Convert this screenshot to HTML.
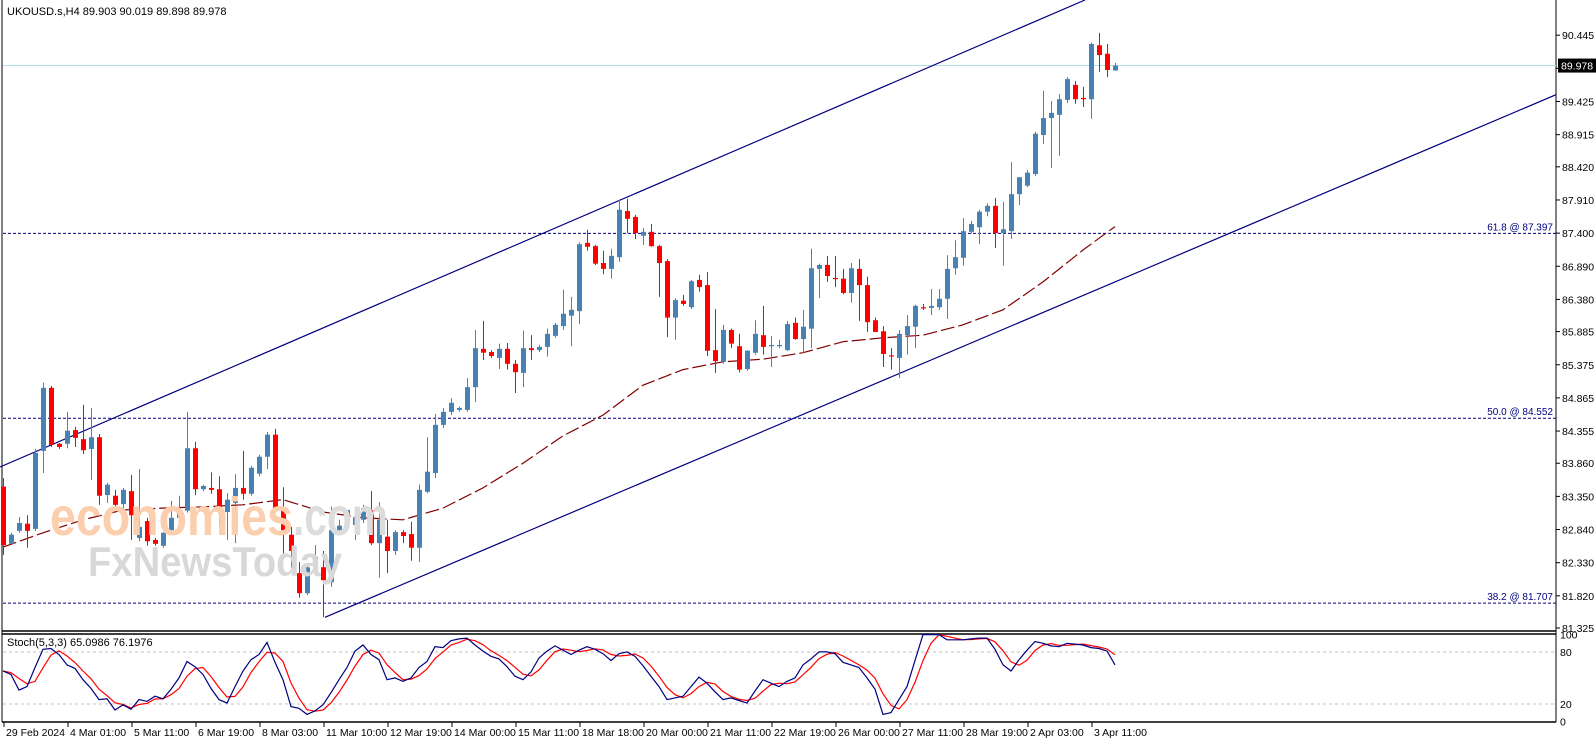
<!DOCTYPE html>
<html><head><meta charset="utf-8"><style>
html,body{margin:0;padding:0;background:#fff;}
svg{display:block;font-family:"Liberation Sans",sans-serif;}
</style></head><body>
<svg id="chart" width="1596" height="743" viewBox="0 0 1596 743" xmlns="http://www.w3.org/2000/svg">
<rect x="0" y="0" width="1596" height="743" fill="#fff"/>
<g id="grid"></g>
<g id="lines"></g>
<g id="ma"></g>
<g id="candles"></g>
<g id="wm">
<text x="50" y="535" font-size="54" font-weight="bold" fill="#fbcfae" textLength="243" lengthAdjust="spacingAndGlyphs">economies</text>
<text x="293" y="535" font-size="54" font-weight="bold" fill="#dcdcdc" textLength="95" lengthAdjust="spacingAndGlyphs">.com</text>
<text x="88" y="576" font-size="42" font-weight="bold" fill="#d8d8d8" textLength="254" lengthAdjust="spacingAndGlyphs">FxNewsToday</text>
</g>
<g id="stoch"></g>
<g id="axes"></g>
<text x="7" y="15" font-size="11" fill="#000">UKOUSD.s,H4  89.903 90.019 89.898 89.978</text>
<text x="7" y="646" font-size="11" fill="#000">Stoch(5,3,3) 65.0986 76.1976</text>
</svg>
<script>
const opens=[83.50,82.62,82.82,82.93,82.85,84.05,85.02,84.16,84.16,84.37,84.23,84.08,84.26,83.37,83.36,83.23,83.43,82.71,82.97,82.68,82.59,82.83,83.02,83.13,84.09,83.46,83.48,83.46,83.11,83.25,83.48,83.39,83.70,83.96,84.30,83.14,82.76,82.17,81.86,82.25,82.26,82.03,82.83,82.91,82.91,82.99,83.14,82.63,82.73,82.51,82.80,82.77,82.56,83.42,83.71,84.45,84.65,84.68,84.68,85.03,85.62,85.57,85.48,85.62,85.39,85.25,85.63,85.60,85.65,85.82,85.97,86.13,86.20,87.25,87.20,86.94,86.85,87.03,87.74,87.65,87.36,87.42,87.20,86.97,86.10,86.36,86.26,86.68,86.60,85.60,85.42,85.91,85.66,85.31,85.56,85.83,85.66,85.66,85.60,86.02,85.77,85.93,86.85,86.91,86.71,86.70,86.48,86.85,86.60,86.06,85.89,85.52,85.48,85.83,85.96,86.26,86.25,86.26,86.39,86.86,87.02,87.42,87.49,87.73,87.82,87.40,87.43,88.00,88.13,88.31,88.91,89.17,89.22,89.45,89.68,89.48,89.46,90.29,90.16,89.903];
const highs=[83.63,82.79,83.03,83.06,84.08,85.10,85.05,84.17,84.65,84.42,84.76,84.71,84.31,83.56,83.45,83.48,83.68,83.77,83.02,82.71,82.80,83.28,83.36,84.65,84.19,83.53,83.72,83.66,83.40,83.69,84.05,83.82,83.99,84.34,84.39,83.49,82.88,82.34,82.30,82.60,82.51,83.19,82.99,83.11,83.19,83.22,83.43,83.26,82.99,82.83,82.83,82.96,83.53,84.26,84.62,84.71,84.86,84.73,85.17,85.91,86.05,85.60,85.70,85.71,85.45,85.90,85.83,85.68,85.93,86.02,86.53,86.42,87.26,87.45,87.22,87.13,87.16,87.91,87.93,87.68,87.48,87.54,87.22,87.00,86.40,86.45,86.68,86.76,86.80,86.23,85.99,85.93,85.85,85.60,86.06,86.28,85.82,85.76,86.05,86.10,86.22,87.16,86.93,87.05,87.05,86.85,86.94,87.00,86.73,86.10,85.97,85.63,85.91,86.14,86.30,86.31,86.54,86.54,87.06,87.29,87.63,87.59,87.76,87.86,87.94,87.88,88.49,88.26,88.37,88.96,89.59,89.43,89.54,89.80,89.74,89.65,90.33,90.48,90.31,90.019];
const lows=[82.45,82.60,82.79,82.56,82.82,83.71,84.11,84.08,84.09,84.11,84.00,83.60,83.22,83.25,83.14,82.91,82.68,82.66,82.59,82.59,82.56,82.80,82.99,83.10,83.37,83.43,83.39,82.89,82.68,82.63,83.30,83.36,83.66,83.77,83.11,82.42,82.25,81.79,81.83,82.19,81.49,81.96,82.79,82.86,82.68,82.94,82.60,82.10,82.17,82.45,82.63,82.36,82.34,83.40,83.63,84.40,84.60,84.65,84.65,84.80,85.45,85.48,85.31,85.30,84.94,85.03,85.45,85.57,85.50,85.79,85.91,85.66,86.00,87.13,86.91,86.77,86.70,86.96,87.40,87.31,87.22,87.19,86.42,85.80,85.76,86.28,86.23,86.50,85.51,85.25,85.39,85.63,85.26,85.28,85.53,85.53,85.34,85.63,85.59,85.76,85.56,85.63,86.40,86.65,86.57,86.46,86.33,86.05,85.88,85.88,85.34,85.30,85.17,85.53,85.63,86.22,86.14,86.22,86.08,86.76,86.90,87.40,87.23,87.66,87.17,86.90,87.31,87.83,88.11,88.28,88.77,88.40,88.59,89.40,89.39,89.34,89.16,89.88,89.80,89.898];
const closes=[82.60,82.76,82.94,82.82,84.02,85.02,84.14,84.11,84.36,84.25,84.06,84.26,83.36,83.53,83.22,83.45,83.06,82.88,82.66,82.62,82.79,83.02,83.10,84.09,83.46,83.51,83.45,83.14,83.30,83.48,83.39,83.79,83.96,84.30,83.14,82.83,82.51,81.86,82.26,82.42,82.06,82.83,82.90,83.14,83.03,83.17,82.63,82.99,82.51,82.80,82.74,82.56,83.45,83.73,84.45,84.65,84.79,84.71,85.03,85.63,85.56,85.51,85.62,85.39,85.26,85.63,85.60,85.65,85.85,85.99,86.16,86.22,87.23,87.19,86.93,86.85,87.05,87.76,87.62,87.40,87.42,87.20,86.94,86.10,86.37,86.31,86.66,86.57,85.59,85.43,85.91,85.70,85.30,85.59,85.85,85.65,85.68,85.68,86.00,85.77,85.96,86.86,86.91,86.74,86.70,86.48,86.86,86.60,86.03,85.88,85.54,85.51,85.85,85.97,86.28,86.25,86.28,86.39,86.85,87.03,87.43,87.54,87.73,87.82,87.40,87.46,88.00,88.26,88.33,88.93,89.17,89.25,89.46,89.77,89.46,89.46,90.31,90.14,89.91,89.978];
const maIdx=[0,5,10,15,20,25,30,35,40,45,50,55,60,65,70,75,80,85,90,95,100,105,110,115,120,125,130,135,139];
const maVals=[82.57,82.79,82.99,83.14,83.17,83.19,83.22,83.30,83.11,83.02,82.99,83.17,83.48,83.86,84.28,84.60,85.06,85.30,85.42,85.46,85.56,85.73,85.79,85.83,85.99,86.22,86.65,87.14,87.50];
const stochK=[58,54,36,40,62,83,84,77,65,61,48,38,25,26,13,19,14,25,23,29,26,37,50,69,63,54,38,25,21,40,58,71,77,91,68,48,17,15,8,12,19,33,48,62,81,88,77,71,48,50,46,50,62,69,86,85,93,95,96,88,81,75,72,63,52,48,57,73,81,87,82,77,82,86,83,78,70,78,80,75,64,52,40,25,27,29,40,51,44,34,25,27,24,21,35,48,44,40,46,50,65,72,80,80,78,68,65,62,50,37,8,10,25,40,70,100,100,100,94,94,94,95,96,96,83,65,58,71,82,92,90,87,86,90,89,88,85,84,81,65];
const priceTicks=[90.445,89.935,89.425,88.915,88.420,87.910,87.400,86.890,86.380,85.885,85.375,84.865,84.355,83.860,83.350,82.840,82.330,81.820,81.325];
const fibLevels=[87.397,84.552,81.707];
const fibLabels=["61.8 @ 87.397","50.0 @ 84.552","38.2 @ 81.707"];
const stochTicks=[100,80,20,0];
const dateLabels=["29 Feb 2024","4 Mar 01:00","5 Mar 11:00","6 Mar 19:00","8 Mar 03:00","11 Mar 10:00","12 Mar 19:00","14 Mar 00:00","15 Mar 11:00","18 Mar 18:00","20 Mar 00:00","21 Mar 11:00","22 Mar 19:00","26 Mar 00:00","27 Mar 11:00","28 Mar 19:00","2 Apr 03:00","3 Apr 11:00"];
const lastPrice=89.978;
const channelUpper=[[0,467],[1085,0]];
const channelLowerStart=325, channelLowerStartPrice=81.49;

const NS="http://www.w3.org/2000/svg";
const AX=1556;
function py(p){return 628-(p-81.325)*65;}
function bx(i){return 3+8*i;}
function sy(v){return 721.3-v*0.867;}
function mk(tag,attrs,parent){const e=document.createElementNS(NS,tag);for(const k in attrs)e.setAttribute(k,attrs[k]);parent.appendChild(e);return e;}
const G=id=>document.getElementById(id);

const grid=G('grid');
let e;
e=mk('line',{x1:2,y1:0,x2:2,y2:722,stroke:'#000','stroke-width':1},grid);

e=mk('line',{x1:AX,y1:0,x2:AX,y2:722,stroke:'#000','stroke-width':1},grid);

e=mk('line',{x1:2,y1:631,x2:AX,y2:631,stroke:'#000','stroke-width':1.5},grid);

e=mk('line',{x1:2,y1:634,x2:AX,y2:634,stroke:'#000','stroke-width':1.5},grid);

e=mk('line',{x1:2,y1:722,x2:AX,y2:722,stroke:'#000','stroke-width':1.5},grid);


const lines=G('lines');
e=mk('line',{x1:3,y1:py(lastPrice),x2:AX,y2:py(lastPrice),stroke:'#b0e0e6','stroke-width':1},lines);

fibLevels.forEach((lv,k)=>{
  const l=mk('line',{x1:3,y1:py(lv),x2:AX,y2:py(lv),stroke:'#000080','stroke-width':1,'stroke-dasharray':'3,2'},lines);
  
  const t=mk('text',{x:AX-3,y:py(lv)-3,'font-size':10,fill:'#000080','text-anchor':'end'},lines);
  t.textContent=fibLabels[k];
  
});
e=mk('line',{x1:channelUpper[0][0],y1:channelUpper[0][1],x2:channelUpper[1][0],y2:channelUpper[1][1],stroke:'#000080','stroke-width':1.2},lines);

const ly0=py(channelLowerStartPrice);
e=mk('line',{x1:channelLowerStart,y1:ly0,x2:AX,y2:ly0-0.4245*(AX-channelLowerStart),stroke:'#000080','stroke-width':1.2},lines);


const maPts=maIdx.map((ix,k)=>bx(ix)+','+py(maVals[k]).toFixed(1)).join(' ');
e=mk('polyline',{points:maPts,fill:'none',stroke:'#800000','stroke-width':1.2,'stroke-dasharray':'14,4'},G('ma'));


const cg=G('candles');
for(let i=0;i<closes.length;i++){
  const up=closes[i]>=opens[i];
  const col=up?'#4682b4':'#ff0000';
  const x=bx(i);
  const w=mk('line',{x1:x+0.5,x2:x+0.5,y1:py(highs[i]),y2:py(lows[i]),stroke:col,'stroke-width':1},cg);
  
  const top=py(Math.max(opens[i],closes[i])),bot=py(Math.min(opens[i],closes[i]));
  const b=mk('rect',{x:x-2,y:top,width:5,height:Math.max(1.2,bot-top),fill:col},cg);
  
}

const sg=G('stoch');
[80,20].forEach(v=>{
  const l=mk('line',{x1:3,x2:AX,y1:sy(v),y2:sy(v),stroke:'#c0c0c0','stroke-width':1,'stroke-dasharray':'3,3'},sg);
  
});
const stochD=stochK.map((v,i)=>{const a=stochK.slice(Math.max(0,i-2),i+1);return a.reduce((s,q)=>s+q,0)/a.length;});
e=mk('polyline',{points:stochD.map((v,i)=>bx(i)+','+sy(v).toFixed(1)).join(' '),fill:'none',stroke:'#ff0000','stroke-width':1.2},sg);

e=mk('polyline',{points:stochK.map((v,i)=>bx(i)+','+sy(v).toFixed(1)).join(' '),fill:'none',stroke:'#000080','stroke-width':1.2},sg);


const ax=G('axes');
priceTicks.forEach(p=>{
  const y=py(p);
  const tk=mk('line',{x1:AX,x2:AX+4,y1:y,y2:y,stroke:'#000'},ax);
  
  const t=mk('text',{x:AX+6,y:y+4,'font-size':10.5,fill:'#000'},ax);
  t.textContent=p.toFixed(3);
  
});
e=mk('rect',{x:AX+2,y:py(lastPrice)-7,width:38,height:14,fill:'#000'},ax);

e=mk('text',{x:AX+5,y:py(lastPrice)+4,'font-size':10.5,fill:'#fff'},ax);
e.textContent=lastPrice.toFixed(3);

stochTicks.forEach(v=>{
  const t=mk('text',{x:AX+4,y:sy(v)+4,'font-size':10.5,fill:'#000'},ax);
  t.textContent=String(v);
  
});
dateLabels.forEach((d,k)=>{
  const x=4+64*k;
  const tk=mk('line',{x1:x,x2:x,y1:722,y2:727,stroke:'#000'},ax);
  
  const t=mk('text',{x:x+2,y:736,'font-size':10.5,fill:'#000'},ax);
  t.textContent=d;
  
});
</script>
</body></html>
